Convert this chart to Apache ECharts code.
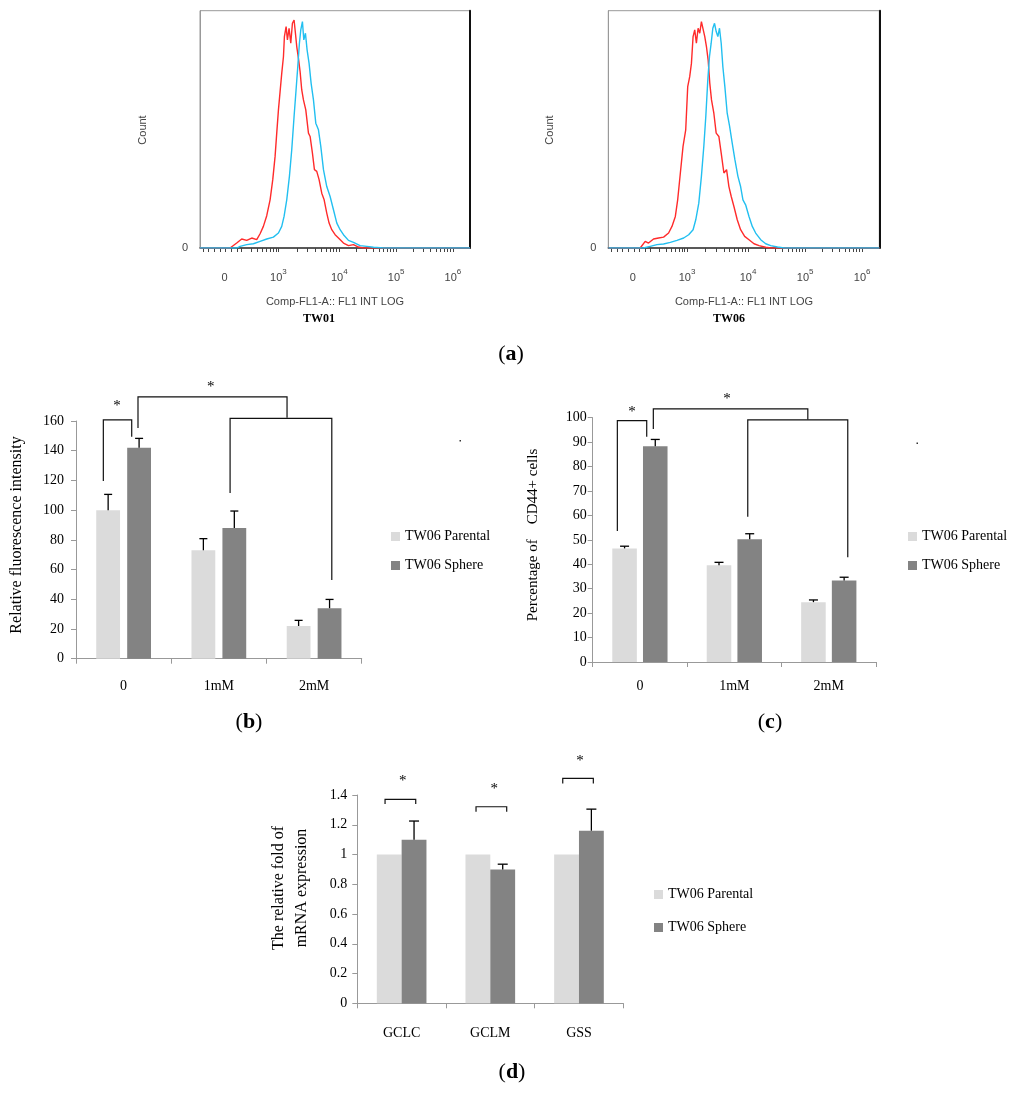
<!DOCTYPE html>
<html><head><meta charset="utf-8">
<script src="https://cdn.jsdelivr.net/npm/echarts@6/dist/echarts.min.js"></script>
<style>html,body{margin:0;padding:0;background:#fff}#c{width:1024px;height:1096px}</style>
</head><body><div id="c"></div><script>
// ---------- DATA ----------
// (a) flow-cytometry histograms: [display position (0 = "0", 2 = 10^4 ...), count %]
const histTickPos = [0, 0.93, 2, 3, 4];
const histTickLabels = ['0', '10^3', '10^4', '10^5', '10^6'];
const tw01Red = [[-0.45,0],[0.079,0],[0.196,2.1],[0.284,3.8],[0.372,3.2],[0.46,4.2],[0.548,3.5],[0.607,6.0],[0.665,9.1],[0.724,13.6],[0.783,20.3],[0.83,28.8],[0.871,38.6],[0.9,48.4],[0.93,58.2],[0.959,65.9],[0.988,73.6],[1.018,80.6],[1.035,89.1],[1.065,93.3],[1.088,87.7],[1.117,92.6],[1.147,86.3],[1.176,94.7],[1.205,96.1],[1.229,90.5],[1.252,84.9],[1.282,79.9],[1.311,74.3],[1.34,66.6],[1.37,62.4],[1.411,58.2],[1.458,48.4],[1.487,47.0],[1.528,40.0],[1.563,33.0],[1.604,32.3],[1.645,28.8],[1.692,23.1],[1.734,20.3],[1.78,14.7],[1.821,10.5],[1.868,7.7],[1.927,5.6],[1.986,4.2],[2.074,2.1],[2.162,1.0],[2.25,1.4],[2.338,0.4],[2.426,0],[4.3,0]];
const tw01Cyan = [[-0.45,0],[0.2,0],[0.255,0.7],[0.372,1.4],[0.49,1.8],[0.607,2.8],[0.724,3.8],[0.841,4.6],[0.93,6.3],[0.988,9.1],[1.029,13.3],[1.076,20.3],[1.123,30.2],[1.164,41.4],[1.205,55.4],[1.24,66.6],[1.27,76.4],[1.299,86.3],[1.323,91.9],[1.352,95.4],[1.376,87.7],[1.405,90.5],[1.434,83.5],[1.469,77.8],[1.505,69.4],[1.546,62.4],[1.587,52.6],[1.634,49.8],[1.675,42.8],[1.722,33.0],[1.78,25.9],[1.839,21.7],[1.898,16.1],[1.957,10.5],[2.015,7.7],[2.074,5.6],[2.162,3.2],[2.25,2.4],[2.367,1.0],[2.485,0.7],[2.602,0.3],[2.78,0],[4.3,0]];
const tw06Red = [[-0.45,0],[0.109,0],[0.197,2.8],[0.255,2.1],[0.343,3.8],[0.431,4.2],[0.519,4.6],[0.607,6.3],[0.666,9.1],[0.725,13.3],[0.766,20.3],[0.813,31.6],[0.86,42.8],[0.907,49.8],[0.942,68.0],[0.977,72.2],[1.007,77.8],[1.036,89.1],[1.065,91.9],[1.094,86.3],[1.124,92.6],[1.153,90.5],[1.182,95.4],[1.212,96.1],[1.241,89.1],[1.27,84.9],[1.3,79.2],[1.329,69.4],[1.359,62.4],[1.4,56.8],[1.441,48.4],[1.488,47.0],[1.529,40.0],[1.576,31.6],[1.623,33.0],[1.664,25.9],[1.705,21.7],[1.752,17.5],[1.81,11.9],[1.869,7.7],[1.94,4.9],[2.016,3.5],[2.104,1.8],[2.192,1.0],[2.309,0.3],[2.397,0],[4.3,0]];
const tw06Cyan = [[-0.45,0],[0.167,0],[0.285,0.7],[0.402,1.4],[0.519,1.7],[0.637,2.4],[0.754,3.2],[0.871,4.2],[0.959,5.6],[1.036,7.7],[1.083,11.9],[1.136,18.9],[1.182,30.2],[1.224,42.8],[1.259,55.4],[1.294,70.8],[1.323,80.6],[1.353,86.3],[1.382,92.6],[1.412,94.7],[1.441,91.2],[1.47,89.1],[1.499,92.6],[1.529,86.3],[1.558,76.4],[1.593,68.0],[1.634,56.8],[1.675,51.5],[1.722,44.2],[1.769,37.2],[1.822,30.2],[1.869,25.9],[1.91,20.3],[1.957,18.2],[2.016,13.3],[2.074,9.1],[2.133,6.3],[2.221,3.5],[2.309,1.8],[2.397,1.0],[2.515,0.4],[2.632,0],[4.3,0]];

// (b) relative fluorescence intensity
const bCats = ['0', '1mM', '2mM'];
const bParental = [100, 73, 22];
const bParentalErr = [10.6, 7.8, 3.8];
const bSphere = [142, 88, 34];
const bSphereErr = [6.3, 11.4, 5.9];
const bYTicks = [0, 160, 20];
// brackets: [xStart, xEnd, yTop, yLeftEnd, yRightEnd] (x in category units)
const bBrackets = [[-0.213,0.085,160.7,119.6,149.4],[0.151,1.716,176.2,155.3,162.2],[1.118,2.186,161.8,111.5,53]];
const bStars = [[-0.069,172.1],[0.915,184.9]];

// (c) percentage of CD44+ cells
const cCats = ['0', '1mM', '2mM'];
const cParental = [46.5, 39.6, 24.5];
const cParentalErr = [0.9, 1.2, 0.9];
const cSphere = [88.3, 50.2, 33.4];
const cSphereErr = [2.8, 2.3, 1.3];
const cYTicks = [0, 100, 10];
const cBrackets = [[-0.239,0.072,98.8,53.6,92.2],[0.142,1.778,103.6,95.4,99.3],[1.142,2.201,99.1,59.5,42.9]];
const cStars = [[-0.084,103.6],[0.923,108.9]];

// (d) relative fold of mRNA expression
const dCats = ['GCLC', 'GCLM', 'GSS'];
const dParental = [1, 1, 1];
const dSphere = [1.10, 0.90, 1.16];
const dSphereErr = [0.125, 0.035, 0.145];
const dYTicks = [0, 1.4, 0.2];
const dBrackets = [[-0.187,0.159,1.371,1.339,1.339],[0.839,1.185,1.321,1.288,1.288],[1.817,2.162,1.512,1.478,1.478]];
const dStars = [[0.012,1.514],[1.045,1.460],[2.012,1.649]];

const legendNames = ['TW06 Parental', 'TW06 Sphere'];

// ---------- STYLE ----------
const SERIF = '"Liberation Serif","Times New Roman",serif';
const SANS = '"Liberation Sans",Arial,sans-serif';
const RED = '#FF2B2B', CYAN = '#22BFF0', LIGHT = '#DBDBDB', DARK = '#838383';

const chart = echarts.init(document.getElementById('c'), null, {renderer: 'canvas', width: 1024, height: 1096});

// tick marks under the histogram axis (decoration)
const histTicks = (function () {
  const t = [-0.4, -0.3, -0.2, -0.1, 0, 0.1, 0.2];
  for (let k = 2; k <= 9; k++) t.push(0.93 * (1 + Math.log10(k / 10)));
  for (let i = 1; i < histTickPos.length - 1; i++) {
    const a = histTickPos[i], b = histTickPos[i + 1];
    t.push(a);
    for (let k = 2; k <= 9; k++) t.push(a + (b - a) * Math.log10(k));
  }
  t.push(histTickPos[histTickPos.length - 1]);
  return t;
})();

function histX(gi) {
  return {
    type: 'value', gridIndex: gi, min: -0.45, max: 4.3,
    axisLine: {show: true, onZero: false, lineStyle: {color: '#333', width: 1.5}},
    axisTick: {show: true, customValues: histTicks, length: 4, lineStyle: {color: '#444', width: 1}},
    axisLabel: {
      show: true, customValues: histTickPos, margin: 20, color: '#444',
      formatter: function (v) {
        let idx = 0, best = 1e9;
        histTickPos.forEach((p, i) => { if (Math.abs(p - v) < best) { best = Math.abs(p - v); idx = i; } });
        const lab = histTickLabels[idx];
        if (lab.indexOf('^') >= 0) { const p = lab.split('^'); return '{base|' + p[0] + '}{sup|' + p[1] + '}'; }
        return '{base|' + lab + '}{sup| }';
      },
      rich: {
        base: {fontSize: 11, fontFamily: SANS, color: '#444', verticalAlign: 'bottom'},
        sup: {fontSize: 8, fontFamily: SANS, color: '#444', verticalAlign: 'bottom', padding: [0, 0, 7, 0]}
      }
    },
    splitLine: {show: false}
  };
}
function histYLeft(gi) {
  return {
    type: 'value', gridIndex: gi, min: 0, max: 100, interval: 100,
    axisLine: {show: true, onZero: false, lineStyle: {color: '#999', width: 1}},
    axisTick: {show: false},
    axisLabel: {show: true, margin: 12, color: '#444', fontFamily: SANS, fontSize: 11, formatter: v => (v === 0 ? '0' : '')},
    splitLine: {show: false}
  };
}
function histYRight(gi) {
  return {
    type: 'value', gridIndex: gi, position: 'right', min: 0, max: 100,
    axisLine: {show: true, onZero: false, lineStyle: {color: '#111', width: 2}},
    axisTick: {show: false}, axisLabel: {show: false}, splitLine: {show: false}
  };
}
function catX(gi, cats, margin) {
  return {
    type: 'category', gridIndex: gi, data: cats,
    axisLine: {show: true, onZero: false, lineStyle: {color: '#999', width: 1}},
    axisTick: {show: true, length: 5, lineStyle: {color: '#999'}},
    axisLabel: {margin: margin, color: '#000', fontFamily: SERIF, fontSize: 14},
    splitLine: {show: false}
  };
}
function hidX(gi) { return {type: 'value', gridIndex: gi, min: -0.5, max: 2.5, show: false}; }
function valY(gi, t, margin) {
  return {
    type: 'value', gridIndex: gi, min: t[0], max: t[1], interval: t[2],
    axisLine: {show: true, onZero: false, lineStyle: {color: '#999', width: 1}},
    axisTick: {show: true, length: 5, lineStyle: {color: '#999'}},
    axisLabel: {margin: margin, color: '#000', fontFamily: SERIF, fontSize: 14},
    splitLine: {show: false}
  };
}

function barSeries(name, xi, yi, data, color, w, gap) {
  return {type: 'bar', name: name, xAxisIndex: xi, yAxisIndex: yi, data: data,
    barWidth: w, barGap: gap, itemStyle: {color: color}, z: 2};
}
function errSeries(xi, yi, vals, errs, offset, capHalf) {
  return {
    type: 'custom', xAxisIndex: xi, yAxisIndex: yi, clip: false, z: 5,
    data: vals.map((v, i) => [i, v, errs[i]]),
    renderItem: function (params, api) {
      const band = api.size([1, 0])[0];
      const base = api.coord([api.value(0), api.value(1)]);
      const top = api.coord([api.value(0), api.value(1) + api.value(2)]);
      const x = base[0] + offset * band;
      const st = {stroke: '#000', lineWidth: 1.3};
      return {type: 'group', children: [
        {type: 'line', shape: {x1: x, y1: base[1], x2: x, y2: top[1]}, style: st},
        {type: 'line', shape: {x1: x - capHalf, y1: top[1], x2: x + capHalf, y2: top[1]}, style: st}
      ]};
    }
  };
}
function bracketSeries(xi, yi, brackets) {
  return {
    type: 'custom', xAxisIndex: xi, yAxisIndex: yi, clip: false, z: 6,
    data: brackets,
    renderItem: function (params, api) {
      const x1 = api.value(0), x2 = api.value(1), yt = api.value(2), yl = api.value(3), yr = api.value(4);
      const pts = [api.coord([x1, yl]), api.coord([x1, yt]), api.coord([x2, yt]), api.coord([x2, yr])];
      return {type: 'polyline', shape: {points: pts}, style: {stroke: '#111', lineWidth: 1.2, fill: null}};
    }
  };
}
function starSeries(xi, yi, stars) {
  return {
    type: 'custom', xAxisIndex: xi, yAxisIndex: yi, clip: false, z: 6,
    data: stars,
    renderItem: function (params, api) {
      const p = api.coord([api.value(0), api.value(1)]);
      return {type: 'text', x: p[0], y: p[1] + 3, style: {text: '*', fill: '#000', font: '15px ' + SERIF, align: 'center', verticalAlign: 'middle'}};
    }
  };
}
function histLine(name, xi, yi, data, color, z) {
  return {type: 'line', name: name, xAxisIndex: xi, yAxisIndex: yi, data: data, showSymbol: false, symbol: 'none',
    lineStyle: {color: color, width: 1.4}, itemStyle: {color: color}, z: z, silent: true};
}
function legendAt(left, top, gap) {
  return {data: legendNames, orient: 'vertical', left: left, top: top, padding: 0, itemWidth: 9, itemHeight: 9,
    itemGap: gap, icon: 'rect', selectedMode: false,
    textStyle: {fontFamily: SERIF, fontSize: 14, color: '#000', lineHeight: 15}};
}
function txt(x, y, text, font, color, rot, extra) {
  const s = Object.assign({text: text, font: font, fill: color || '#000', align: 'center', verticalAlign: 'middle'}, extra || {});
  return {type: 'text', x: x, y: y, rotation: rot || 0, style: s, silent: true};
}
const panelRich = {b: {fontFamily: SERIF, fontSize: 22, fontWeight: 'bold', fill: '#000'}};
function panelLabel(x, y, letter) {
  return txt(x, y, '({b|' + letter + '})', '22px ' + SERIF, '#000', 0, {rich: panelRich});
}

const gridBase = {containLabel: false, outerBoundsMode: 'none'};
const option = {
  animation: false,
  backgroundColor: '#fff',
  grid: [
    Object.assign({left: 200, top: 10.7, width: 270, height: 237.3, show: true, borderColor: '#999', borderWidth: 1, backgroundColor: 'transparent'}, gridBase),
    Object.assign({left: 608.3, top: 10.7, width: 271, height: 237.3, show: true, borderColor: '#999', borderWidth: 1, backgroundColor: 'transparent'}, gridBase),
    Object.assign({left: 76, top: 421, width: 285.7, height: 237.7}, gridBase),
    Object.assign({left: 592.7, top: 417.7, width: 283.3, height: 244.3}, gridBase),
    Object.assign({left: 357.3, top: 795, width: 266, height: 208.3}, gridBase)
  ],
  xAxis: [histX(0), histX(1), catX(2, bCats, 21), hidX(2), catX(3, cCats, 17), hidX(3), catX(4, dCats, 23), hidX(4)],
  yAxis: [histYLeft(0), histYRight(0), histYLeft(1), histYRight(1), valY(2, bYTicks, 12), valY(3, cYTicks, 6), valY(4, dYTicks, 10)],
  legend: [legendAt(391, 529, 14), legendAt(908, 529, 14), legendAt(654, 887, 18)],
  series: [
    histLine('TW01 red', 0, 0, tw01Red, RED, 2),
    histLine('TW01 cyan', 0, 0, tw01Cyan, CYAN, 3),
    histLine('TW06 red', 1, 2, tw06Red, RED, 2),
    histLine('TW06 cyan', 1, 2, tw06Cyan, CYAN, 3),

    barSeries('TW06 Parental', 2, 4, bParental, LIGHT, '25%', '30%'),
    barSeries('TW06 Sphere', 2, 4, bSphere, DARK, '25%', '30%'),
    errSeries(2, 4, bParental, bParentalErr, -0.1625, 4),
    errSeries(2, 4, bSphere, bSphereErr, 0.1625, 4),
    bracketSeries(3, 4, bBrackets),
    starSeries(3, 4, bStars),

    barSeries('TW06 Parental', 4, 5, cParental, LIGHT, '26%', '25%'),
    barSeries('TW06 Sphere', 4, 5, cSphere, DARK, '26%', '25%'),
    errSeries(4, 5, cParental, cParentalErr, -0.1625, 4.5),
    errSeries(4, 5, cSphere, cSphereErr, 0.1625, 4.5),
    bracketSeries(5, 5, cBrackets),
    starSeries(5, 5, cStars),

    barSeries('TW06 Parental', 6, 6, dParental, LIGHT, '28%', '0%'),
    barSeries('TW06 Sphere', 6, 6, dSphere, DARK, '28%', '0%'),
    errSeries(6, 6, dSphere, dSphereErr, 0.14, 5),
    bracketSeries(7, 6, dBrackets),
    starSeries(7, 6, dStars)
  ],
  graphic: [
    txt(143, 130, 'Count', '11px ' + SANS, '#444', Math.PI / 2),
    txt(550, 130, 'Count', '11px ' + SANS, '#444', Math.PI / 2),
    txt(335, 302, 'Comp-FL1-A:: FL1 INT LOG', '11px ' + SANS, '#444'),
    txt(744, 302, 'Comp-FL1-A:: FL1 INT LOG', '11px ' + SANS, '#444'),
    txt(319, 319, 'TW01', 'bold 12px ' + SERIF, '#000'),
    txt(729, 319, 'TW06', 'bold 12px ' + SERIF, '#000'),
    panelLabel(511, 354, 'a'),
    txt(17, 535, 'Relative fluorescence intensity', '16px ' + SERIF, '#000', Math.PI / 2),
    txt(533, 535, 'Percentage of    CD44+ cells', '15px ' + SERIF, '#000', Math.PI / 2),
    txt(290, 888, 'The relative fold of\nmRNA expression', '16px ' + SERIF, '#000', Math.PI / 2, {lineHeight: 23}),
    panelLabel(249, 722, 'b'),
    panelLabel(770, 722, 'c'),
    panelLabel(512, 1072, 'd'),
    {type: 'rect', shape: {x: 459.5, y: 440, width: 1.5, height: 1.5}, style: {fill: '#333'}, silent: true},
    {type: 'rect', shape: {x: 916.5, y: 442.5, width: 1.5, height: 1.5}, style: {fill: '#333'}, silent: true}
  ]
};
chart.setOption(option);
</script></body></html>
